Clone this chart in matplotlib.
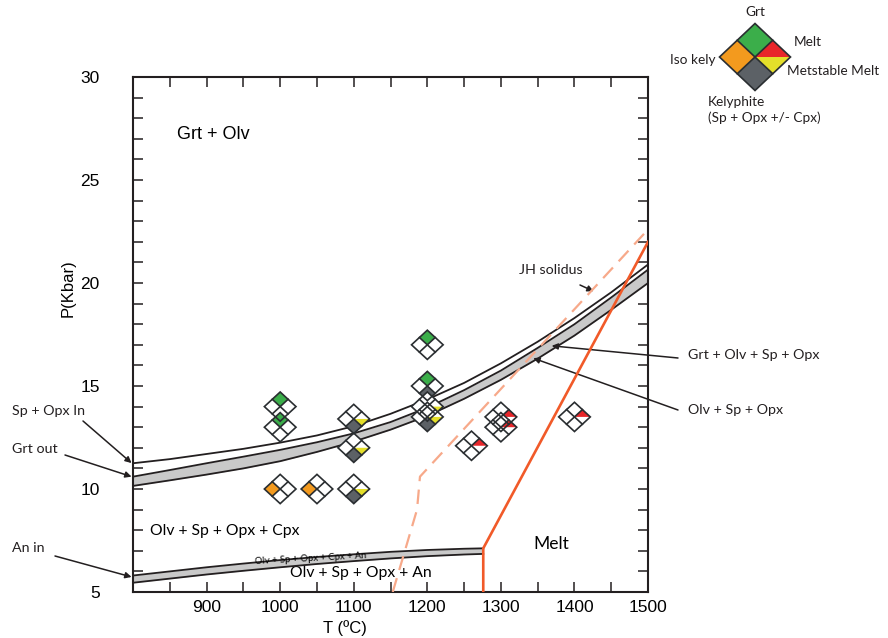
import matplotlib.pyplot as plt
from matplotlib.patches import Polygon
from matplotlib.ticker import MultipleLocator

# phase boundaries, T in degC, P in kbar
curve_t = [800, 850, 900, 950, 1000, 1050, 1100, 1150, 1200, 1250, 1300, 1350, 1400, 1450, 1500]
sp_opx_in = [11.25, 11.45, 11.7, 11.95, 12.25, 12.6, 13.05, 13.65, 14.35, 15.15, 16.1, 17.15,
             18.3, 19.55, 20.9]
grt_out_top = [10.6, 10.92, 11.25, 11.57, 11.9, 12.27, 12.7, 13.25, 13.95, 14.8, 15.75, 16.85,
               18.0, 19.3, 20.65]
grt_out_bot = [10.15, 10.42, 10.7, 11.0, 11.35, 11.8, 12.3, 12.88, 13.55, 14.38, 15.3, 16.33,
               17.45, 18.7, 20.0]

an_t = [800, 850, 900, 950, 1000, 1050, 1100, 1150, 1200, 1250, 1276]
an_top = [5.8, 6.0, 6.2, 6.38, 6.55, 6.7, 6.83, 6.95, 7.04, 7.1, 7.12]
an_bot = [5.45, 5.65, 5.85, 6.03, 6.2, 6.36, 6.5, 6.63, 6.74, 6.82, 6.85]

melt_t = [1276, 1276, 1500]
melt_p = [5.0, 7.12, 22.0]

jh_t = [1153, 1186, 1190, 1500]
jh_p = [5.0, 9.0, 10.6, 22.6]

# experiments: T, P and which phases were seen
exp_t = [1000, 1000, 1000, 1050, 1100, 1100, 1100, 1200, 1200, 1200, 1200, 1260, 1300, 1300, 1400]
exp_p = [14.0, 13.0, 10.0, 10.0, 13.4, 12.0, 10.0, 17.0, 15.0, 14.0, 13.5, 12.1, 13.5, 13.0, 13.5]
exp_grt = [1, 1, 0, 0, 0, 0, 0, 1, 1, 0, 0, 0, 0, 0, 0]
exp_iso = [0, 0, 1, 1, 0, 0, 0, 0, 0, 0, 0, 0, 0, 0, 0]
exp_kely = [0, 0, 0, 0, 1, 1, 1, 0, 1, 1, 1, 0, 0, 0, 0]
exp_melt = [0, 0, 0, 0, 0, 0, 0, 0, 0, 0, 0, 1, 1, 1, 1]
exp_meta = [0, 0, 0, 0, 1, 1, 1, 0, 0, 1, 1, 0, 0, 0, 0]

GRT = '#3bae4a'
ISO = '#f39a1e'
KELY = '#5c6166'
MELT = '#e8262a'
META = '#e4df2a'
INK = '#231f20'
BAND = '#c9c9c9'
SOLIDUS = '#f15a29'
JH = '#f7a98a'


def draw_glyph(ax, cx, cy, w, h, grt, iso, kely, melt, meta, lw=1.2, z=5):
    hw, hh = w / 2, h / 2
    qw, qh = hw / 2, hh / 2
    top = [(cx, cy), (cx - qw, cy + qh), (cx, cy + hh), (cx + qw, cy + qh)]
    left = [(cx, cy), (cx - qw, cy + qh), (cx - hw, cy), (cx - qw, cy - qh)]
    bottom = [(cx, cy), (cx - qw, cy - qh), (cx, cy - hh), (cx + qw, cy - qh)]
    right_up = [(cx, cy), (cx + qw, cy + qh), (cx + hw, cy)]
    right_lo = [(cx, cy), (cx + hw, cy), (cx + qw, cy - qh)]
    outline = [(cx, cy + hh), (cx + hw, cy), (cx, cy - hh), (cx - hw, cy)]
    ax.add_patch(Polygon(outline, closed=True, facecolor='white', edgecolor='none', zorder=z))
    for pts, on, col in [(top, grt, GRT), (left, iso, ISO), (bottom, kely, KELY),
                         (right_up, melt, MELT), (right_lo, meta, META)]:
        if on:
            ax.add_patch(Polygon(pts, closed=True, facecolor=col, edgecolor='none', zorder=z))
    ax.add_patch(Polygon(outline, closed=True, facecolor='none', edgecolor='#2a2e31',
                         lw=lw, joinstyle='miter', zorder=z + 0.1))
    ax.plot([cx - qw, cx + qw], [cy + qh, cy - qh], color='#2a2e31', lw=lw, zorder=z + 0.1)
    ax.plot([cx - qw, cx + qw], [cy - qh, cy + qh], color='#2a2e31', lw=lw, zorder=z + 0.1)


fig = plt.figure(figsize=(8.88, 6.38), dpi=100)
ax = fig.add_axes([0.1498, 0.0721, 0.5800, 0.8072])
over = fig.add_axes([0, 0, 1, 1], zorder=3)
over.set_xlim(0, 888)
over.set_ylim(638, 0)
over.axis('off')
over.patch.set_alpha(0)

ax.set_xlim(800, 1500)
ax.set_ylim(5, 30)

# garnet-out band and spinel + opx in line
ax.fill_between(curve_t, grt_out_bot, grt_out_top, color=BAND, lw=0, zorder=2)
ax.plot(curve_t, grt_out_top, color=INK, lw=1.3, zorder=4)
ax.plot(curve_t, grt_out_bot, color=INK, lw=1.3, zorder=4)
ax.plot(curve_t, sp_opx_in, color=INK, lw=1.3, zorder=4)

# anorthite band
ax.fill_between(an_t, an_bot, an_top, color=BAND, lw=0, zorder=2)
ax.plot(an_t, an_top, color=INK, lw=1.3, zorder=4)
ax.plot(an_t, an_bot, color=INK, lw=1.3, zorder=4)

# solidi
ax.plot(melt_t, melt_p, color=SOLIDUS, lw=1.9, zorder=4)
ax.plot(jh_t, jh_p, color=JH, lw=1.6, dashes=(6.5, 3.8), zorder=4)

for i in range(len(exp_t)):
    draw_glyph(ax, exp_t[i], exp_p[i], 43, 1.42, exp_grt[i], exp_iso[i],
               exp_kely[i], exp_melt[i], exp_meta[i])

# field labels
ax.text(909, 27.2, 'Grt + Olv', fontsize=13, family='Liberation Sans', ha='center', va='center')
ax.text(924, 7.95, 'Olv + Sp + Opx + Cpx', fontsize=11.3, family='Lato', ha='center', va='center')
ax.text(1110, 5.9, 'Olv + Sp + Opx + An', fontsize=11.3, family='Lato', ha='center', va='center')
ax.text(1041, 6.62, 'Olv + Sp + Opx + Cpx + An', fontsize=6.8, family='Lato',
        ha='center', va='center', rotation=3, zorder=6)
ax.text(1368, 7.35, 'Melt', fontsize=12.5, family='Lato', ha='center', va='center')

arrow = dict(arrowstyle='-|>', color=INK, lw=1.1, mutation_scale=9, shrinkA=0, shrinkB=0)
lbl = dict(fontsize=10.3, family='Lato', va='center', color=INK)

over.text(551, 270, 'JH solidus', ha='center', **lbl)
ax.annotate('', xy=(1426, 19.6), xytext=(580, 285), textcoords=over.transData,
            arrowprops=arrow, annotation_clip=False)

over.text(688, 355, 'Grt + Olv + Sp + Opx', ha='left', **lbl)
ax.annotate('', xy=(1369, 16.95), xytext=(678, 358), textcoords=over.transData,
            arrowprops=arrow, annotation_clip=False)

over.text(688, 410, 'Olv + Sp + Opx', ha='left', **lbl)
ax.annotate('', xy=(1344, 16.35), xytext=(678, 410), textcoords=over.transData,
            arrowprops=arrow, annotation_clip=False)

over.text(12, 411, 'Sp + Opx In', ha='left', **lbl)
ax.annotate('', xy=(798, 11.26), xytext=(83, 421), textcoords=over.transData,
            arrowprops=arrow, annotation_clip=False)

over.text(12, 449, 'Grt out', ha='left', **lbl)
ax.annotate('', xy=(798, 10.6), xytext=(65, 455), textcoords=over.transData,
            arrowprops=arrow, annotation_clip=False)

over.text(12, 548, 'An in', ha='left', **lbl)
ax.annotate('', xy=(798, 5.73), xytext=(55, 556), textcoords=over.transData,
            arrowprops=arrow, annotation_clip=False)

# key glyph
draw_glyph(over, 755, 57, 71, -67, 1, 1, 1, 1, 1, lw=1.2)
key = dict(fontsize=9.8, family='Lato', va='center', color=INK)
over.text(755, 12, 'Grt', ha='center', **key)
over.text(808, 42, 'Melt', ha='center', **key)
over.text(715, 60, 'Iso kely', ha='right', **key)
over.text(787, 71, 'Metstable Melt', ha='left', **key)
over.text(708, 102, 'Kelyphite', ha='left', **key)
over.text(708, 118, '(Sp + Opx +/- Cpx)', ha='left', **key)

# axes styling
ax.xaxis.set_major_locator(MultipleLocator(100))
ax.xaxis.set_minor_locator(MultipleLocator(50))
ax.yaxis.set_major_locator(MultipleLocator(5))
ax.yaxis.set_minor_locator(MultipleLocator(1))
ax.set_xticks([900, 1000, 1100, 1200, 1300, 1400, 1500])
ax.tick_params(which='both', direction='in', length=7, width=1.1, color=INK,
               top=True, right=True, labelsize=12.5)
ax.tick_params(axis='x', pad=6)
ax.tick_params(axis='y', pad=24)
for lab in ax.get_xticklabels() + ax.get_yticklabels():
    lab.set_family('Liberation Sans')
for s in ax.spines.values():
    s.set_linewidth(1.5)
    s.set_color(INK)

over.text(68, 288, 'P(Kbar)', rotation=90, ha='center', va='center',
          fontsize=12, family='Liberation Sans')
over.text(345, 628, 'T (ºC)', ha='center', va='center', fontsize=12, family='Liberation Sans')

fig.savefig('out.png', dpi=100)
